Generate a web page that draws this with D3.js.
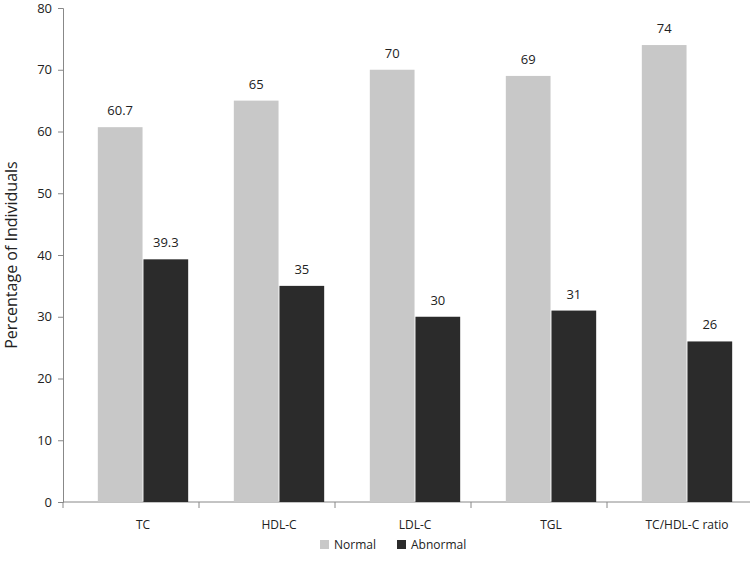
<!DOCTYPE html>
<html><head><meta charset="utf-8">
<script src="https://cdn.jsdelivr.net/npm/d3@7"></script>
<style>body{margin:0;background:#fff;font-family:"Open Sans","DejaVu Sans",sans-serif}</style>
</head><body><svg id="c" width="756" height="583"></svg>
<script>
const categories=["TC","HDL-C","LDL-C","TGL","TC/HDL-C ratio"];
const normal=[60.7,65,70,69,74];
const abnormal=[39.3,35,30,31,26];
const normalLabels=["60.7","65","70","69","74"];
const abnormalLabels=["39.3","35","30","31","26"];
const yTicks=[0,10,20,30,40,50,60,70,80];
const series=[{name:"Normal",vals:normal,labels:normalLabels,color:"#c8c8c8"},{name:"Abnormal",vals:abnormal,labels:abnormalLabels,color:"#2b2b2b"}];

const svg=d3.select("#c");
const L=63,X0=75,R=755,T=8,B=502;
const x=d3.scaleBand().domain(categories).range([X0,R]);
const xs=d3.scaleBand().domain(series.map(s=>s.name)).range([0,x.bandwidth()]).paddingInner(0.02).paddingOuter(0.5);
const y=d3.scaleLinear().domain([0,80]).range([B,T]);

const ya=svg.append("g").attr("transform",`translate(${L},0)`).call(d3.axisLeft(y).tickValues(yTicks).tickSize(5).tickPadding(6));
ya.selectAll("text").attr("font-size",13).attr("fill","#222").attr("font-family","Open Sans, sans-serif");
ya.selectAll("line,path").attr("stroke","#888");
svg.append("line").attr("x1",L).attr("x2",R-5).attr("y1",B).attr("y2",B).attr("stroke","#888");
svg.append("g").selectAll("text").data(categories).join("text")
 .attr("x",c=>x(c)+x.bandwidth()/2).attr("y",B+27).attr("text-anchor","middle")
 .attr("font-size",12).attr("fill","#222").text(c=>c);
svg.append("g").selectAll("line").data([0,1,2,3,4]).join("line")
 .attr("x1",i=>L+i*x.step()).attr("x2",i=>L+i*x.step()).attr("y1",B).attr("y2",B+6).attr("stroke","#888");

series.forEach(s=>{
  const g=svg.append("g");
  g.selectAll("rect").data(categories).join("rect")
   .attr("x",c=>x(c)+xs(s.name)).attr("width",xs.bandwidth())
   .attr("y",(c,i)=>y(s.vals[i])).attr("height",(c,i)=>B-y(s.vals[i])).attr("fill",s.color);
  g.selectAll("text").data(categories).join("text")
   .attr("x",c=>x(c)+xs(s.name)+xs.bandwidth()/2).attr("y",(c,i)=>y(s.vals[i])-12)
   .attr("text-anchor","middle").attr("font-size",13).attr("fill","#222").text((c,i)=>s.labels[i]);
});

svg.append("text").attr("transform","translate(17,255) rotate(-90)").attr("text-anchor","middle")
 .attr("font-size",16).attr("fill","#222").text("Percentage of Individuals");

const lg=svg.append("g");
const lx=[320,397];
series.forEach((s,i)=>{
  lg.append("rect").attr("x",lx[i]).attr("y",540).attr("width",9).attr("height",9).attr("fill",s.color);
  lg.append("text").attr("x",lx[i]+14).attr("y",549).attr("font-size",12).attr("fill","#222").text(s.name);
});
</script></body></html>
